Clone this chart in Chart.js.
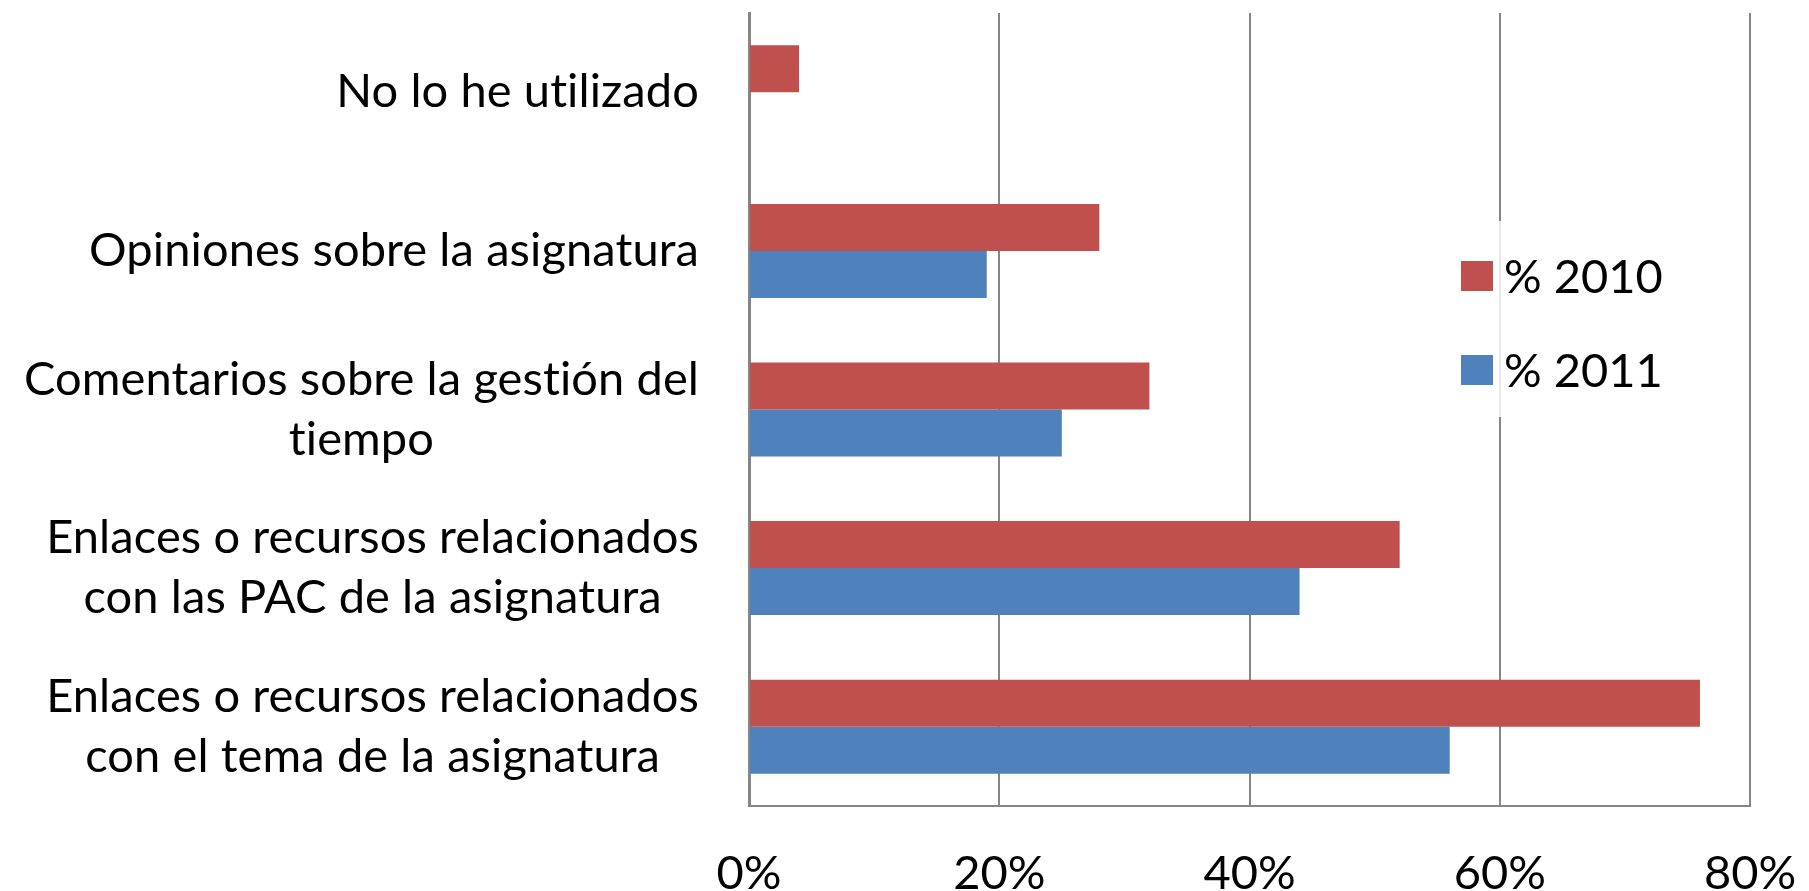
<!DOCTYPE html>
<html>
<head>
<meta charset="utf-8">
<script src="https://cdn.jsdelivr.net/npm/chart.js@4.4.1/dist/chart.umd.min.js"></script>
<style>
    html, body { margin: 0; padding: 0; background: #ffffff; }
    #chart { display: block; }
</style>
</head>
<body>
<canvas id="chart" width="1809" height="891"></canvas>
<script>

const categories = [
    ['No lo he utilizado'],
    ['Opiniones sobre la asignatura'],
    ['Comentarios sobre la gestión del', 'tiempo'],
    ['Enlaces o recursos relacionados', 'con las PAC de la asignatura'],
    ['Enlaces o recursos relacionados', 'con el tema de la asignatura']
];

const seriesNames = ['% 2010', '% 2011'];
const values2010 = [4, 28, 32, 52, 76];
const values2011 = [0, 19, 25, 44, 56];
const xTicks = [0, 20, 40, 60, 80];

const RED = '#C0504D';
const BLUE = '#4F81BD';
const GRID = '#868686';
const FONT = 'Lato, "Open Sans", sans-serif';
const FSIZE = 47;


// category labels: right aligned block, lines centred inside the block
const categoryLabels = {
    id: 'categoryLabels',
    afterDraw(chart) {
        const c = chart.ctx;
        const y = chart.scales.y;
        const right = chart.chartArea.left - 50;
        const lh = 60;

        c.save();
        c.font = FSIZE + 'px ' + FONT;
        // tiny spacing so Lato does not join "ti"
        if ('letterSpacing' in c) c.letterSpacing = '0.1px';
        c.fillStyle = '#000000';
        c.textAlign = 'center';
        c.textBaseline = 'middle';

        categories.forEach((lines, i) => {
            const py = y.getPixelForTick(i);
            let w = 0;
            lines.forEach(l => { w = Math.max(w, c.measureText(l).width); });
            const cx = right - w / 2;
            const y0 = py - (lines.length - 1) * lh / 2;
            lines.forEach((l, k) => {
                c.fillText(l, cx, y0 + k * lh);
            });
        });
        c.restore();
    }
};


// legend sitting inside the plot, on a see-through white box
const innerLegend = {
    id: 'innerLegend',
    afterDatasetsDraw(chart) {
        const c = chart.ctx;
        const colors = [RED, BLUE];

        c.save();
        c.fillStyle = 'rgba(255,255,255,0.82)';
        c.fillRect(1452, 221, 222, 196);

        c.font = FSIZE + 'px ' + FONT;
        c.textAlign = 'left';
        c.textBaseline = 'middle';

        seriesNames.forEach((name, i) => {
            const top = 261 + i * 94;
            c.fillStyle = colors[i];
            c.fillRect(1461, top, 32, 30);
            c.fillStyle = '#000000';
            c.fillText(name, 1504, top + 17);
        });
        c.restore();
    }
};


function draw() {

    const ctx = document.getElementById('chart');

    new Chart(ctx, {

        type: 'bar',

        data: {

            labels: categories.map(l => l.join(' ')),

            datasets: [{
                label: seriesNames[0],
                data: values2010,
                backgroundColor: RED,
                borderWidth: 0,
                categoryPercentage: 0.593,
                barPercentage: 1.0
            }, {
                label: seriesNames[1],
                data: values2011,
                backgroundColor: BLUE,
                borderWidth: 0,
                categoryPercentage: 0.593,
                barPercentage: 1.0
            }]

        },

        options: {

            indexAxis: 'y',

            responsive: false,

            animation: false,

            layout: {
                padding: { top: 13, right: 59, bottom: 0, left: 0 }
            },

            plugins: {
                legend: { display: false },
                tooltip: { enabled: false }
            },

            scales: {

                x: {
                    min: xTicks[0],
                    max: xTicks[xTicks.length - 1],
                    afterBuildTicks(scale) {
                        scale.ticks = xTicks.map(v => ({ value: v }));
                    },
                    afterFit(scale) {
                        scale.height = 85;
                        scale.paddingLeft = 0;
                        scale.paddingRight = 0;
                    },
                    grid: {
                        color: GRID,
                        lineWidth: 2,
                        drawTicks: false
                    },
                    border: {
                        display: true,
                        color: GRID,
                        width: 2
                    },
                    ticks: {
                        padding: 44,
                        color: '#000000',
                        font: { family: FONT, size: FSIZE, lineHeight: 1 },
                        maxRotation: 0,
                        callback: v => v + '%'
                    }
                },

                y: {
                    afterFit(scale) {
                        scale.width = 749;
                    },
                    grid: { display: false },
                    border: {
                        display: true,
                        color: GRID,
                        width: 3
                    },
                    ticks: { display: false }
                }

            }

        },

        plugins: [categoryLabels, innerLegend]

    });
}

document.addEventListener("DOMContentLoaded", function () {
    if (document.fonts && document.fonts.load) {
        document.fonts.load(FSIZE + 'px Lato').then(draw, draw);
    } else {
        draw();
    }
});

</script>
</body>
</html>
